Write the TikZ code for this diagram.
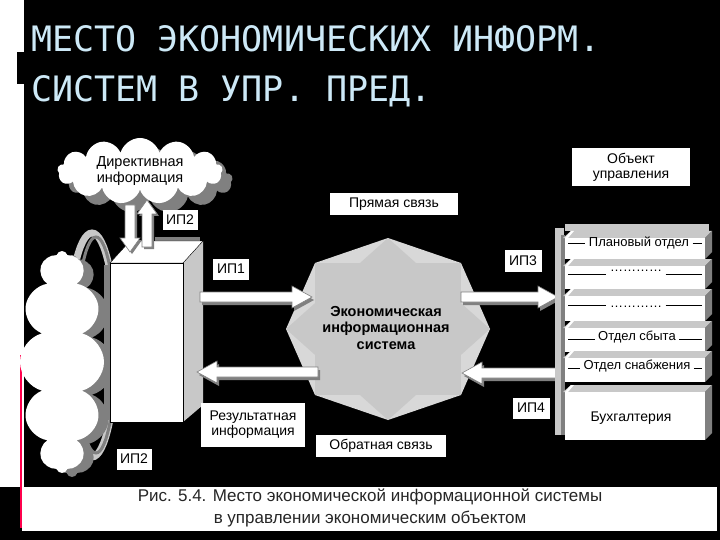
\documentclass[tikz,border=0pt]{standalone}
\usepackage{fontspec}
\setmainfont{Liberation Sans}
\newfontfamily\titlefont{DejaVu Sans Mono}
\usetikzlibrary{shapes.symbols,calc}
\definecolor{titlec}{HTML}{CDE9F7}
\definecolor{shadowc}{HTML}{808080}
\definecolor{lightg}{HTML}{C8C8C8}
\tikzset{
 lbl/.style={fill=white,inner sep=2pt,font=\fontsize{14}{15}\selectfont,align=center},
 puff/.style={cloud,fill=white,draw=none,cloud puffs=#1,inner sep=0pt},
 blk/.style={fill=white,draw=shadowc,line width=0.6pt},
 shd/.style={fill=shadowc},
}
\newcommand\barrowshape[4]{(#1,#3-5) -- (#2-20*#4,#3-5) -- (#2-20*#4,#3-11) -- (#2,#3) -- (#2-20*#4,#3+11) -- (#2-20*#4,#3+5) -- (#1,#3+5) -- cycle}
\newcommand\varrowshape[4]{(#1-5,#2) -- (#1-5,#3-14*#4) -- (#1-10,#3-14*#4) -- (#1,#3) -- (#1+10,#3-14*#4) -- (#1+5,#3-14*#4) -- (#1+5,#2) -- cycle}
\newcommand\shelf[2]{% top y, bottom y
 \fill[lightg] (563,#1) -- (571,#1-7) -- (712,#1-7) -- (705,#1) -- cycle;
 \fill[white] (565,#1) rectangle (705,#2);
 \fill[shadowc] (705,#1) -- (712,#1-7) -- (712,#2-7) -- (705,#2) -- cycle;
 \fill[white] (565,#1) -- (571,#1-7) -- (574,#1-7) -- (568,#1) -- cycle;
}
\begin{document}
\begin{tikzpicture}[x=1pt,y=-1pt]
\useasboundingbox (0,0) rectangle (720,540);
\fill[black] (0,0) rectangle (720,540);
\fill[white] (0,0) rectangle (24,487);
\fill[black] (24,0) rectangle (720,487);
\fill[black] (17,52) rectangle (27,84);
\draw[red!70!magenta,line width=2pt] (21,355) -- (21,528);
% title
\node[anchor=base west,text=titlec,font=\titlefont\fontsize{35}{36}\selectfont,inner sep=0] (t1) at (31,52) {МЕСТО ЭКОНОМИЧЕСКИХ ИНФОРМ.};
\node[anchor=base west,text=titlec,font=\titlefont\fontsize{35}{36}\selectfont,inner sep=0] (t2) at (31,102) {СИСТЕМ В УПР. ПРЕД.};
% ring
\draw[lightg,line width=7pt] (92,345) ellipse (24 and 112);
\draw[shadowc,line width=3pt] (96,345) ellipse (20 and 108);
% left cloud
\node[puff=12,aspect=0.38,fill=shadowc,minimum width=84,minimum height=222] at (72,366) {};
\node[puff=12,aspect=0.38,minimum width=84,minimum height=222] (lcloud) at (62,362) {};
% top cloud
\node[puff=13,aspect=2.5,fill=shadowc,minimum width=165,minimum height=66] at (150,180) {};
\node[puff=13,aspect=2.5,minimum width=165,minimum height=66] (dir) at (140,171) {};
\node[font=\fontsize{14.5}{16}\selectfont,align=center] (dirt) at (dir.center) {Директивная\\информация};
% 3D box
\fill[shadowc] (104,265) rectangle (110,420);
\fill[lightg] (183,263) -- (203,241) -- (203,405) -- (183,422) -- cycle;
\fill[shadowc] (155,237) rectangle (200,243);
\fill[white,draw=black,line width=0.4pt] (110,263) -- (130,241) -- (203,241) -- (183,263) -- cycle;
\node[fill=white,draw=black,line width=0.4pt,minimum width=73,minimum height=159,anchor=north west,inner sep=0] (box) at (110,263) {};
% vertical arrows
\fill[shd] [shift={(2,2)}] \varrowshape{130}{205}{252}{1};
\filldraw[blk] \varrowshape{130}{205}{252}{1};
\fill[shd] [shift={(2,2)}] \varrowshape{147}{247}{200}{-1};
\filldraw[blk] \varrowshape{147}{247}{200}{-1};
% star
\fill[lightg!70] (388,238) -- (461,263) -- (490,329) -- (461,395) -- (388,420) -- (315,395) -- (286,329) -- (315,263) -- cycle;
\fill[lightg] (315,263) rectangle (461,395);
\fill[lightg] (388,238) -- (490,329) -- (388,420) -- (286,329) -- cycle;
\node[font=\bfseries\fontsize{14.5}{16.5}\selectfont,align=center] (eis) at (386,328) {Экономическая\\информационная\\система};
% horizontal arrows
\fill[shd] [shift={(2,3)}] \barrowshape{200}{312}{297}{1};
\filldraw[blk] \barrowshape{200}{312}{297}{1};
\fill[shd] [shift={(2,3)}] \barrowshape{318}{197}{372}{-1};
\filldraw[blk] \barrowshape{318}{197}{372}{-1};
\fill[shd] [shift={(2,3)}] \barrowshape{461}{558}{297}{1};
\filldraw[blk] \barrowshape{461}{558}{297}{1};
\fill[shd] [shift={(2,3)}] \barrowshape{558}{462}{373}{-1};
\filldraw[blk] \barrowshape{558}{462}{373}{-1};
% right stack
\fill[lightg] (555,228) rectangle (564,435);
\fill[shadowc] (561,235) rectangle (565,435);
\fill[lightg] (565,224) rectangle (709,231);
\shelf{238}{259}
\shelf{266}{289}
\shelf{296}{321}
\shelf{328}{352}
\shelf{358}{382}
\shelf{392}{440}
\begin{scope}[font=\fontsize{13}{14}\selectfont]
\node (p1) at (639,243) {Плановый отдел};
\node (p2) at (636,271) {\dots\dots\dots\dots};
\node (p3) at (636,307) {\dots\dots\dots\dots};
\node (p4) at (637,337) {Отдел сбыта};
\node (p5) at (637,366) {Отдел снабжения};
\node[font=\fontsize{14}{15}\selectfont] (p6) at (631,418) {Бухгалтерия};
\end{scope}
\foreach \n/\y in {p1/243,p2/274,p3/305,p4/339,p5/368}{
 \draw[black,line width=0.5pt] (568,\y) -- (\n.west |- 0,\y);
 \draw[black,line width=0.5pt] (\n.east |- 0,\y) -- (702,\y);
}
% labels
\node[lbl,minimum width=118,minimum height=38] (obj) at (631,167) {Объект\\управления};
\node[lbl,minimum width=128,minimum height=22] (pr) at (394,204) {Прямая связь};
\node[lbl,minimum width=130,minimum height=22] (ob) at (381,446) {Обратная связь};
\node[lbl,minimum width=104,minimum height=44] (res) at (253,425) {Результатная\\информация};
\node[lbl,minimum width=35,minimum height=20] (ip2a) at (180,220) {ИП2};
\node[lbl,minimum width=36,minimum height=21] (ip1) at (231,269) {ИП1};
\node[lbl,minimum width=35,minimum height=21] (ip2b) at (134,459) {ИП2};
\node[lbl,minimum width=37,minimum height=22] (ip3) at (523,261) {ИП3};
\node[lbl,minimum width=37,minimum height=21] (ip4) at (531,408) {ИП4};
% caption
\fill[white] (22,487) rectangle (717,531);
\node[text=black!85,font=\fontsize{17}{22}\selectfont,align=center] (cap) at (370,508) {Рис. 5.4. Место экономической информационной системы\\в управлении экономическим объектом};
\end{tikzpicture}
\end{document}
